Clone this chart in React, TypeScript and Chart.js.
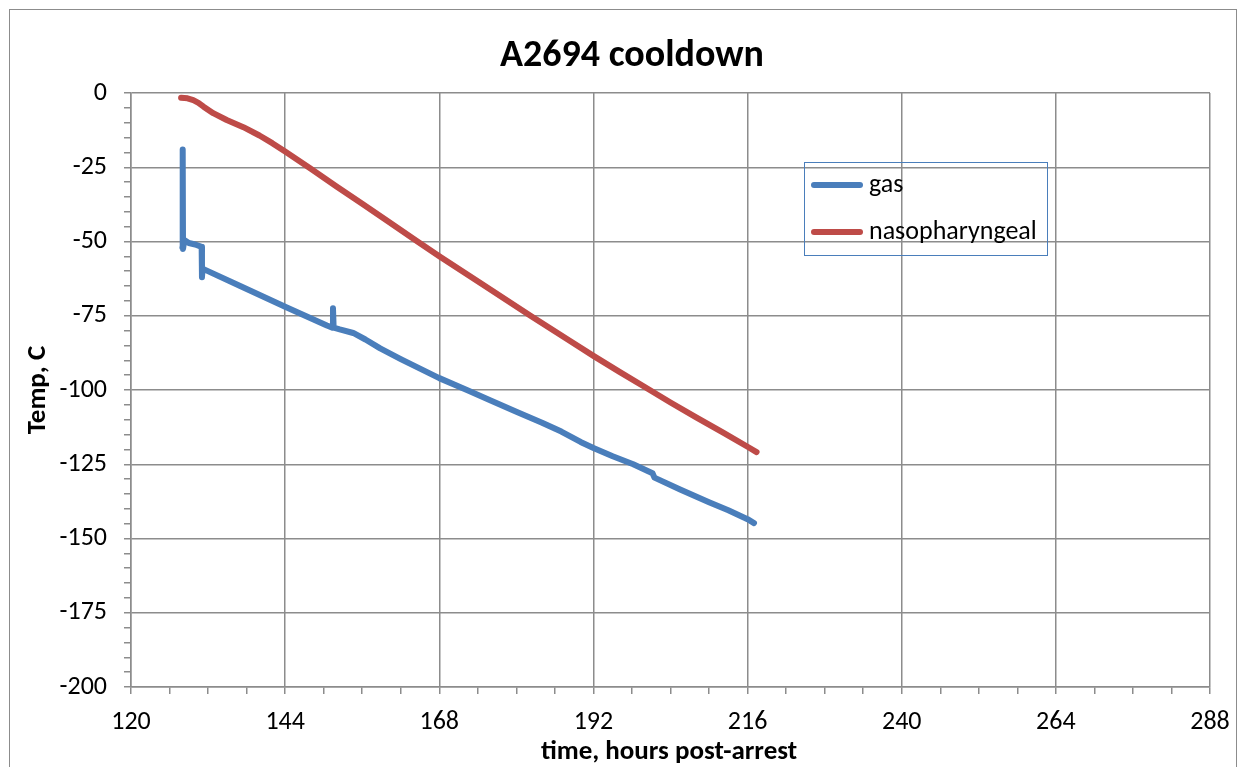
import React, { useEffect, useRef } from "react";
import { Chart, registerables } from "chart.js";

Chart.register(...registerables);

const chartTitle = "A2694 cooldown";
const xAxisTitle = "time, hours post-arrest";
const yAxisTitle = "Temp, C";
const seriesNames = ["gas", "nasopharyngeal"];
const seriesColors = ["#4a7ebb", "#be4b48"];

const gasHours = [128.0, 128.05, 128.1, 128.3, 129.0, 130.0, 131.0, 131.05, 131.15, 131.3, 137, 144, 150.5, 151.35, 151.45, 151.55, 152.5, 154.6, 156.5, 158.8, 162, 165, 168, 172.3, 176, 180, 184, 187, 190, 192, 195, 198.2, 201.2, 201.5, 205.5, 210, 213, 216, 217];
const gasTemps = [-52, -19, -52.5, -49.5, -50.5, -51, -51.8, -62, -59, -59.3, -65, -72, -78.3, -79, -72.5, -79, -79.6, -80.8, -83, -86, -89.6, -92.8, -96, -100, -103.5, -107.3, -111, -114, -117.5, -119.5, -122.3, -125, -128, -129.5, -133.5, -137.8, -140.5, -143.5, -144.8];

const nasoHours = [127.8, 128.8, 129.7, 130.5, 131.3, 132.8, 134.9, 137.5, 140, 142, 144, 148, 152, 156, 160, 164.6, 168, 174.4, 182.2, 188, 192, 196, 200, 204, 208, 212, 216, 217.4];
const nasoTemps = [-1.6, -1.8, -2.4, -3.3, -4.6, -6.8, -9.1, -11.5, -14.3, -16.9, -19.7, -25.5, -31.5, -37.3, -43.2, -50, -55, -64, -75, -83, -88.5, -93.8, -99, -104.2, -109.2, -114.1, -119.1, -120.9];

const xMin = 120;
const xMax = 288;
const xMajor = 24;
const xMinor = 6;
const yMin = -200;
const yMax = 0;
const yMajor = 25;
const yMinor = 5;

const FONT = "Carlito, Lato, sans-serif";
const GRID = "#8c8c8c";

const overlayPlugin = {
  id: "overlay",
  afterDraw(chart: any) {
    const ctx = chart.ctx;
    ctx.save();
    ctx.strokeStyle = GRID;
    ctx.lineWidth = 1;
    ctx.strokeRect(9.5, 9.5, 1227, 780);
    ctx.fillStyle = "#000";
    ctx.textAlign = "center";
    ctx.textBaseline = "middle";
    ctx.font = `bold 38px ${FONT}`;
    ctx.fillText(chartTitle, 632, 56);
    ctx.font = `bold 27px ${FONT}`;
    ctx.fillText(xAxisTitle, 669, 752);
    ctx.save();
    ctx.translate(38, 390);
    ctx.rotate(-Math.PI / 2);
    ctx.fillText(yAxisTitle, 0, 0);
    ctx.restore();
    ctx.strokeStyle = "#4a7ebb";
    ctx.lineWidth = 1;
    ctx.strokeRect(804.5, 162.5, 243, 93);
    const rows = [185, 232];
    chart.data.datasets.forEach((ds: any, i: number) => {
      ctx.strokeStyle = ds.borderColor;
      ctx.lineWidth = 6;
      ctx.lineCap = "round";
      ctx.beginPath();
      ctx.moveTo(814, rows[i]);
      ctx.lineTo(860, rows[i]);
      ctx.stroke();
      ctx.fillStyle = "#000";
      ctx.textAlign = "left";
      ctx.font = `26px ${FONT}`;
      ctx.fillText(ds.label, 869, rows[i]);
    });
    ctx.restore();
  },
};

export default function App() {
  const ref = useRef<HTMLCanvasElement>(null);
  useEffect(() => {
    if (!ref.current) return;
    const chart = new Chart(ref.current, {
      type: "line",
      data: {
        datasets: [
          {
            label: seriesNames[0],
            data: gasHours.map((h, i) => ({ x: h, y: gasTemps[i] })),
            borderColor: seriesColors[0],
            backgroundColor: seriesColors[0],
            borderWidth: 6,
            pointRadius: 0,
            tension: 0,
            borderJoinStyle: "round",
            borderCapStyle: "round",
          },
          {
            label: seriesNames[1],
            data: nasoHours.map((h, i) => ({ x: h, y: nasoTemps[i] })),
            borderColor: seriesColors[1],
            backgroundColor: seriesColors[1],
            borderWidth: 6,
            pointRadius: 0,
            tension: 0,
            borderJoinStyle: "round",
            borderCapStyle: "round",
          },
        ],
      },
      options: {
        animation: false,
        responsive: false,
        maintainAspectRatio: false,
        layout: { padding: { left: 0, top: 93, right: 36, bottom: 0 } },
        plugins: {
          legend: { display: false },
          title: { display: false },
          tooltip: { enabled: false },
        },
        scales: {
          x: {
            type: "linear",
            min: xMin,
            max: xMax,
            afterFit: (s: any) => {
              s.height = 80;
            },
            ticks: {
              stepSize: xMinor,
              autoSkip: false,
              maxRotation: 0,
              padding: 13,
              color: "#000",
              font: { family: FONT, size: 26 },
              callback: (v: any) => (Number(v) % xMajor === 0 ? String(v) : ""),
            },
            grid: {
              color: (c: any) => (c.tick && c.tick.value % xMajor === 0 ? GRID : "rgba(0,0,0,0)"),
              tickColor: GRID,
              tickLength: 7,
              lineWidth: 1.5,
            },
            border: { color: GRID, width: 1.5 },
          },
          y: {
            type: "linear",
            min: yMin,
            max: yMax,
            afterFit: (s: any) => {
              s.width = 131;
            },
            ticks: {
              stepSize: yMinor,
              autoSkip: false,
              padding: 17,
              color: "#000",
              font: { family: FONT, size: 26 },
              callback: (v: any) => (Number(v) % yMajor === 0 ? String(v) : ""),
            },
            grid: {
              color: (c: any) => (c.tick && c.tick.value % yMajor === 0 ? GRID : "rgba(0,0,0,0)"),
              tickColor: GRID,
              tickLength: 7,
              lineWidth: 1.5,
            },
            border: { color: GRID, width: 1.5 },
          },
        },
      },
      plugins: [overlayPlugin],
    });
    return () => chart.destroy();
  }, []);
  return (
    <div style={{ position: "fixed", left: 0, top: 0, width: 1246, height: 767, background: "#fff" }}>
      <canvas ref={ref} width={1246} height={767} style={{ width: 1246, height: 767, display: "block" }} />
    </div>
  );
}
